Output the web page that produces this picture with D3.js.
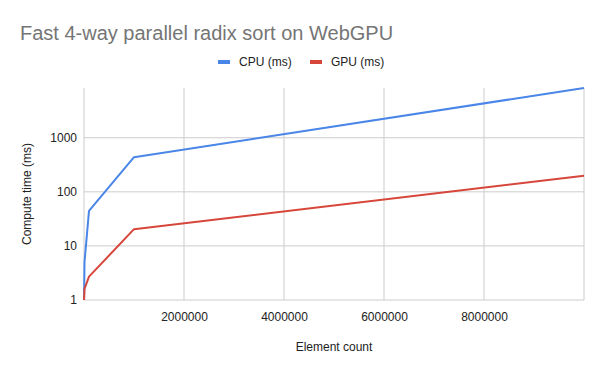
<!DOCTYPE html>
<html>
<head>
<meta charset="utf-8">
<script src="https://cdn.jsdelivr.net/npm/d3@7"></script>
<style>
  body { margin: 0; background: #fff; }
  svg { font-family: Arial, "Liberation Sans", sans-serif; }
</style>
</head>
<body>
<div id="canvas"></div>
<script>
var elementCounts = [1000, 10000, 100000, 1000000, 10000000];
var cpuMs = [1, 5, 44.5, 437, 8320];
var gpuMs = [1, 1.6, 2.7, 20.4, 198];
var xTicks = [2000000, 4000000, 6000000, 8000000];
var yTicks = [1, 10, 100, 1000];
var seriesNames = ['CPU (ms)', 'GPU (ms)'];
var seriesColors = ['#4a86e8', '#d6463b'];

var width = 603, height = 371;
var plotLeft = 84, plotRight = 584, plotTop = 88, plotBottom = 300;

var svg = d3.select('#canvas').append('svg')
  .attr('width', width)
  .attr('height', height);

var x = d3.scaleLinear().domain([0, 10000000]).range([plotLeft, plotRight]);
var y = d3.scaleLog().domain([1, d3.max(cpuMs)]).range([plotBottom, plotTop]);

// gridlines
svg.append('g').selectAll('line').data(yTicks).enter().append('line')
  .attr('x1', plotLeft).attr('x2', plotRight)
  .attr('y1', function (d) { return y(d); })
  .attr('y2', function (d) { return y(d); })
  .attr('stroke', '#cccccc');

svg.append('g').selectAll('line').data([0].concat(xTicks, [10000000])).enter().append('line')
  .attr('x1', function (d) { return x(d); })
  .attr('x2', function (d) { return x(d); })
  .attr('y1', plotTop).attr('y2', plotBottom)
  .attr('stroke', '#cccccc');

// axes, labels only
var xAxis = svg.append('g')
  .attr('transform', 'translate(0,' + plotBottom + ')')
  .call(d3.axisBottom(x).tickValues(xTicks).tickFormat(d3.format('d')).tickSize(0).tickPadding(12));
var yAxis = svg.append('g')
  .attr('transform', 'translate(' + plotLeft + ',0)')
  .call(d3.axisLeft(y).tickValues(yTicks).tickFormat(d3.format('d')).tickSize(0).tickPadding(7));
[xAxis, yAxis].forEach(function (a) {
  a.select('.domain').remove();
  a.selectAll('text').attr('font-size', 12).attr('fill', '#222')
    .attr('font-family', 'Arial, "Liberation Sans", sans-serif');
});

// lines
var line = d3.line()
  .x(function (d) { return x(d[0]); })
  .y(function (d) { return y(d[1]); });

[cpuMs, gpuMs].forEach(function (vals, i) {
  svg.append('path')
    .datum(elementCounts.map(function (c, j) { return [c, vals[j]]; }))
    .attr('d', line)
    .attr('fill', 'none')
    .attr('stroke', seriesColors[i])
    .attr('stroke-width', 2)
    .attr('stroke-linejoin', 'round');
});

// title
svg.append('text')
  .attr('x', 20).attr('y', 40)
  .attr('font-size', 20).attr('fill', '#757575')
  .text('Fast 4-way parallel radix sort on WebGPU');

// legend
var legendX = [218, 310];
seriesNames.forEach(function (name, i) {
  svg.append('rect')
    .attr('x', legendX[i]).attr('y', 60)
    .attr('width', 12).attr('height', 4)
    .attr('fill', seriesColors[i]);
  svg.append('text')
    .attr('x', legendX[i] + 21).attr('y', 66)
    .attr('font-size', 12).attr('fill', '#222')
    .text(name);
});

// axis titles
svg.append('text')
  .attr('x', (plotLeft + plotRight) / 2).attr('y', 351)
  .attr('text-anchor', 'middle')
  .attr('font-size', 12).attr('fill', '#222')
  .text('Element count');

svg.append('text')
  .attr('transform', 'translate(31,' + (plotBottom + plotTop) / 2 + ') rotate(-90)')
  .attr('text-anchor', 'middle')
  .attr('font-size', 12).attr('fill', '#222')
  .text('Compute time (ms)');
</script>
</body>
</html>
